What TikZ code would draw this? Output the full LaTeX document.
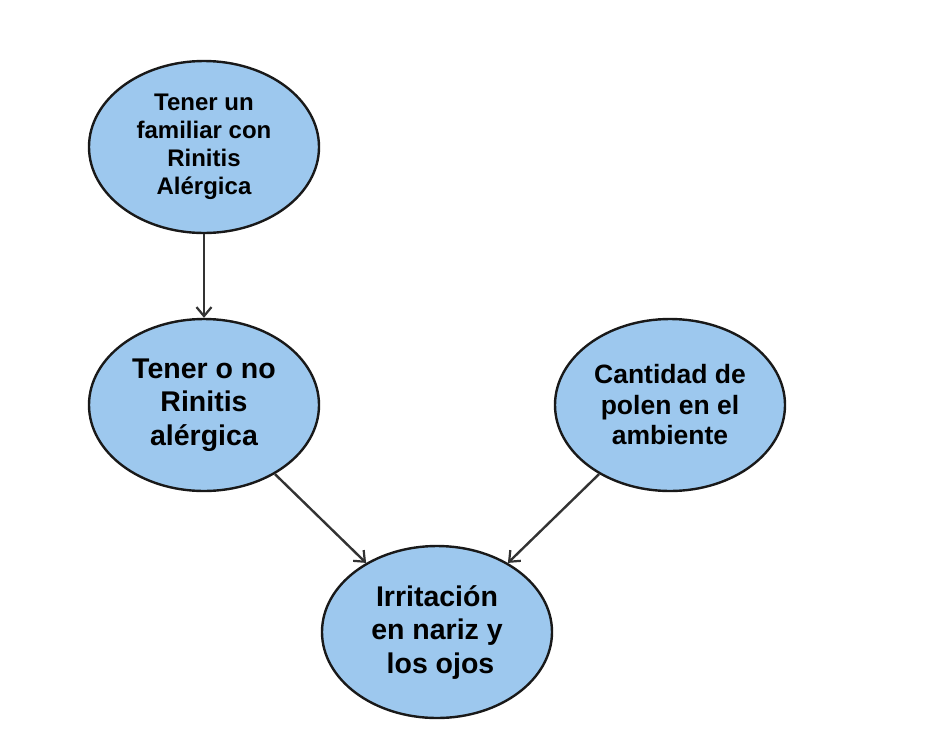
\documentclass[tikz,border=0pt]{standalone}
\usepackage{fontspec}
\setmainfont{Liberation Sans}
\usetikzlibrary{shapes.geometric,arrows.meta}
\definecolor{nodeblue}{RGB}{157,200,238}
\definecolor{edgegray}{RGB}{51,51,51}
\begin{document}
\begin{tikzpicture}[x=1pt,y=-1pt,
  bubble/.style={ellipse,draw=black!90,line width=2.4pt,fill=nodeblue,
    minimum width=230pt,minimum height=172pt,inner sep=0pt,align=center,
    font=\bfseries},
  conn/.style={draw=edgegray,line width=2.4pt,-{Straight Barb[length=9pt,width=15pt,line width=2.2pt]}}]
\useasboundingbox (0,0) rectangle (926,745);
\node[bubble,font=\bfseries\fontsize{24}{28}\selectfont] (fam) at (204,147) {Tener un\\familiar con\\Rinitis\\Alérgica};
\node[bubble,font=\bfseries\fontsize{28.5}{33.5}\selectfont] (rin) at (204,405) {Tener o no\\Rinitis\\alérgica};
\node[bubble,font=\bfseries\fontsize{26.5}{30.5}\selectfont] (pol) at (670,405) {Cantidad de\\polen en el\\ambiente};
\node[bubble,font=\bfseries\fontsize{28.5}{33.5}\selectfont] (irr) at (437,632) {Irritación\\en nariz y\\\hspace*{7pt}los ojos};
\draw[conn] (fam) -- (rin);
\draw[conn] (rin) -- (irr);
\draw[conn] (pol) -- (irr);
\end{tikzpicture}
\end{document}
